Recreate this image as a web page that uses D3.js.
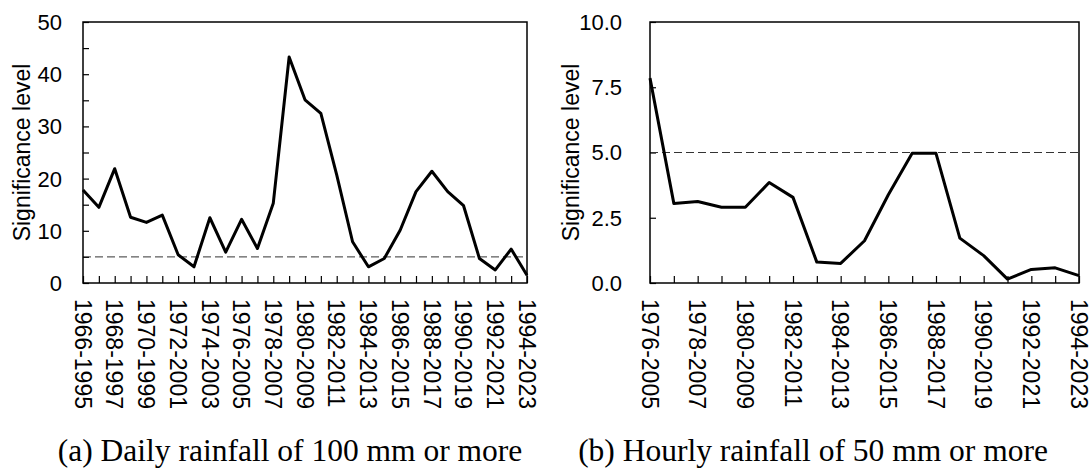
<!DOCTYPE html>
<html>
<head>
<meta charset="utf-8">
<script src="https://cdn.jsdelivr.net/npm/d3@7"></script>
<style>
  body { margin: 0; background: #fff; }
  svg text { fill: #000; }
  .sans { font-family: 'Liberation Sans', Arial, sans-serif; }
  .serif { font-family: 'Liberation Serif', 'Times New Roman', serif; }
</style>
</head>
<body>
<div id="chart"></div>
<script>
// moving 30-year windows
var dailyPeriods = ["1966-1995","1967-1996","1968-1997","1969-1998","1970-1999","1971-2000","1972-2001","1973-2002",
  "1974-2003","1975-2004","1976-2005","1977-2006","1978-2007","1979-2008","1980-2009","1981-2010","1982-2011",
  "1983-2012","1984-2013","1985-2014","1986-2015","1987-2016","1988-2017","1989-2018","1990-2019","1991-2020",
  "1992-2021","1993-2022","1994-2023"];
var dailyValues = [17.8, 14.5, 21.9, 12.6, 11.6, 13.0, 5.4, 3.1, 12.5, 5.9, 12.2, 6.6, 15.3, 43.3, 35.1,
  32.5, 20.7, 7.9, 3.1, 4.7, 10.1, 17.5, 21.4, 17.5, 14.8, 4.7, 2.5, 6.5, 1.5];
var dailyTicks = [0, 10, 20, 30, 40, 50];

var hourlyPeriods = ["1976-2005","1977-2006","1978-2007","1979-2008","1980-2009","1981-2010","1982-2011",
  "1983-2012","1984-2013","1985-2014","1986-2015","1987-2016","1988-2017","1989-2018","1990-2019","1991-2020",
  "1992-2021","1993-2022","1994-2023"];
var hourlyValues = [7.85, 3.05, 3.12, 2.9, 2.9, 3.85, 3.28, 0.8, 0.75, 1.62, 3.38, 4.97, 4.97, 1.72, 1.05,
  0.15, 0.52, 0.58, 0.28];
var hourlyTicks = [0, 2.5, 5, 7.5, 10];

var threshold = 5;   // 5% significance line
var yTitle = "Significance level";
var captions = ["(a) Daily rainfall of 100 mm or more", "(b) Hourly rainfall of 50 mm or more"];

var W = 1091, H = 468;
var svg = d3.select("#chart").append("svg")
  .attr("width", W)
  .attr("height", H);

let drawPanel = (cfg) => {
  var g = svg.append("g");

  var x = d3.scalePoint()
    .domain(cfg.periods)
    .range([cfg.left, cfg.right]);

  var y = d3.scaleLinear()
    .domain([0, cfg.max])
    .range([cfg.bottom, cfg.top]);

  // minor inward ticks on y
  var yAxis = d3.axisRight(y)
    .tickValues(d3.range(0, cfg.max + 0.001, cfg.minorStep))
    .tickSize(6)
    .tickFormat("");
  g.append("g")
    .attr("transform", "translate(" + cfg.left + ",0)")
    .call(yAxis)
    .call(a => a.select(".domain").remove())
    .selectAll("line").attr("stroke", "#000").attr("stroke-width", 1.2);

  // y labels
  g.selectAll(".ylab")
    .data(cfg.ticks)
    .enter()
    .append("text")
      .attr("class", "sans")
      .attr("x", cfg.left - cfg.labelGap)
      .attr("y", d => y(d))
      .attr("dy", "0.36em")
      .attr("text-anchor", "end")
      .style("font-size", "22px")
      .text(d => cfg.fmt(d));

  // x ticks, pointing up into the plot
  var xAxis = d3.axisTop(x)
    .tickSize(7)
    .tickFormat("");
  g.append("g")
    .attr("transform", "translate(0," + cfg.bottom + ")")
    .call(xAxis)
    .call(a => a.select(".domain").remove())
    .selectAll("line").attr("stroke", "#000").attr("stroke-width", 1.2);

  // every other period gets a label
  g.selectAll(".xlab")
    .data(cfg.periods.filter((p, i) => i % 2 == 0))
    .enter()
    .append("text")
      .attr("class", "sans")
      .attr("transform", d => "translate(" + x(d) + "," + (cfg.bottom + 16) + ") rotate(90)")
      .attr("dy", "0.36em")
      .attr("text-anchor", "start")
      .style("font-size", "23px")
      .text(d => d);

  // threshold
  g.append("line")
    .attr("x1", cfg.left)
    .attr("x2", cfg.right)
    .attr("y1", y(threshold))
    .attr("y2", y(threshold))
    .attr("stroke", "#333")
    .attr("stroke-width", 1)
    .attr("stroke-dasharray", "8,4");

  // the series
  var line = d3.line()
    .x((d, i) => x(cfg.periods[i]))
    .y(d => y(d));
  g.append("path")
    .datum(cfg.values)
    .attr("d", line)
    .attr("fill", "none")
    .attr("stroke", "#000")
    .attr("stroke-width", 3)
    .attr("stroke-linejoin", "round");

  // frame
  g.append("rect")
    .attr("x", cfg.left)
    .attr("y", cfg.top)
    .attr("width", cfg.right - cfg.left)
    .attr("height", cfg.bottom - cfg.top)
    .attr("fill", "none")
    .attr("stroke", "#000")
    .attr("stroke-width", 1.5);

  // y title
  g.append("text")
    .attr("class", "sans")
    .attr("transform", "translate(" + cfg.titleX + "," + ((cfg.top + cfg.bottom) / 2) + ") rotate(-90)")
    .attr("dy", "0.36em")
    .attr("text-anchor", "middle")
    .style("font-size", "23px")
    .text(yTitle);

  // caption below
  g.append("text")
    .attr("class", "serif")
    .attr("x", cfg.capX)
    .attr("y", 461)
    .attr("text-anchor", "middle")
    .style("font-size", "31.5px")
    .text(cfg.caption);
}

drawPanel({
  periods: dailyPeriods, values: dailyValues, ticks: dailyTicks,
  max: 50, minorStep: 5, fmt: d3.format("d"),
  left: 83, right: 527, top: 22, bottom: 283,
  labelGap: 21, titleX: 22,
  caption: captions[0], capX: 290
});

drawPanel({
  periods: hourlyPeriods, values: hourlyValues, ticks: hourlyTicks,
  max: 10, minorStep: 2.5, fmt: d3.format(".1f"),
  left: 650, right: 1079, top: 22, bottom: 283,
  labelGap: 28, titleX: 571,
  caption: captions[1], capX: 813
});
</script>
</body>
</html>
